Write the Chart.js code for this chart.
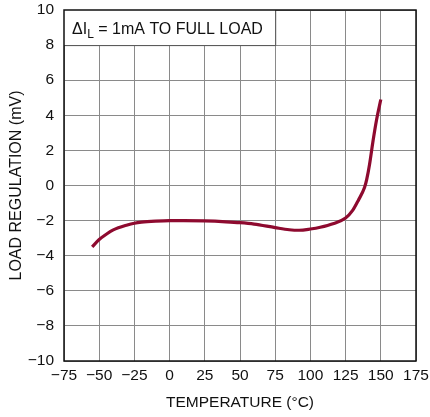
<!DOCTYPE html>
<html>
<head>
<meta charset="utf-8">
<script src="https://cdn.jsdelivr.net/npm/chart.js@4"></script>
<style>
  html, body { margin: 0; padding: 0; background: #fff; }
  #wrap { width: 430px; height: 417px; }
</style>
</head>
<body>
<div id="wrap"><canvas id="loadRegChart" width="430" height="417"></canvas></div>
<script>
const temperature = [-55, -50, -45, -40, -30, -25, -20, -10, 0, 10, 25, 40, 50, 60, 75, 85, 92, 100, 107, 116, 125, 130, 134, 138.5, 140, 142, 144.5, 147, 150];
const loadRegulation = [-3.5, -3.08, -2.78, -2.53, -2.25, -2.15, -2.09, -2.03, -2.0, -2.0, -2.02, -2.07, -2.12, -2.2, -2.4, -2.52, -2.55, -2.48, -2.38, -2.18, -1.85, -1.42, -0.85, -0.1, 0.35, 1.2, 2.55, 3.75, 4.9];
const xTicks = [-75, -50, -25, 0, 25, 50, 75, 100, 125, 150, 175];
const yTicks = [-10, -8, -6, -4, -2, 0, 2, 4, 6, 8, 10];

const FONT = "'Liberation Sans Narrow', 'Liberation Sans', Arial, sans-serif";

// label box in the top-left corner of the grid
const noteBox = {
    id: "noteBox",
    beforeDatasetsDraw(chart) {
        const { ctx, scales: { x, y } } = chart;
        const x0 = x.getPixelForValue(-75), x1 = x.getPixelForValue(75);
        const y0 = y.getPixelForValue(10), y1 = y.getPixelForValue(8);
        ctx.save();
        ctx.fillStyle = "#fff";
        ctx.fillRect(x0, y0, x1 - x0, y1 - y0);
        ctx.strokeStyle = "#555";
        ctx.lineWidth = 1;
        ctx.beginPath();
        ctx.moveTo(x1 + 0.5, y0);
        ctx.lineTo(x1 + 0.5, y1 + 0.5);
        ctx.lineTo(x0, y1 + 0.5);
        ctx.stroke();
        ctx.fillStyle = "#111";
        ctx.textBaseline = "alphabetic";
        let tx = x0 + 8;
        const ty = (y0 + y1) / 2 + 6;
        ctx.font = "16px " + FONT;
        ctx.fillText("\u0394I", tx, ty);
        tx += ctx.measureText("\u0394I").width;
        ctx.font = "12px " + FONT;
        ctx.fillText("L", tx, ty + 4);
        tx += ctx.measureText("L").width;
        ctx.font = "16px " + FONT;
        ctx.fillText(" = 1mA TO FULL LOAD", tx, ty);
        ctx.restore();
    }
};

const frame = {
    id: "frame",
    afterDraw(chart) {
        const { ctx, chartArea: a } = chart;
        ctx.save();
        ctx.strokeStyle = "#111";
        ctx.lineWidth = 1.5;
        ctx.strokeRect(a.left, a.top, a.right - a.left, a.bottom - a.top);
        ctx.restore();
    }
};

new Chart(document.getElementById("loadRegChart").getContext("2d"), {
    type: "line",
    data: {
        datasets: [{
            data: temperature.map((t, i) => ({ x: t, y: loadRegulation[i] })),
            borderColor: "#8e0a2f",
            borderWidth: 3.2,
            pointRadius: 0,
            cubicInterpolationMode: "monotone",
            fill: false
        }]
    },
    options: {
        responsive: false,
        animation: false,
        layout: { padding: { top: 10, right: 14, left: 0, bottom: 0 } },
        plugins: { legend: { display: false }, tooltip: { enabled: false } },
        scales: {
            x: {
                type: "linear",
                min: -75, max: 175,
                afterBuildTicks: s => { s.ticks = xTicks.map(v => ({ value: v })); },
                afterFit: s => { s.height = 56; s.paddingLeft = 0; s.paddingRight = 0; },
                grid: { color: "#8a8a8a", lineWidth: 1, drawTicks: false },
                border: { display: false },
                ticks: {
                    padding: 5,
                    color: "#111",
                    font: { family: FONT, size: 15.5 },
                    maxRotation: 0,
                    callback: v => String(v).replace("-", "\u2212")
                },
                title: {
                    display: true, text: "TEMPERATURE (\u00B0C)", color: "#111",
                    font: { family: FONT, size: 15.5 }, padding: { top: 4, bottom: 5 }
                }
            },
            y: {
                type: "linear",
                min: -10, max: 10,
                afterBuildTicks: s => { s.ticks = yTicks.map(v => ({ value: v })); },
                afterFit: s => { s.width = 64; s.paddingTop = 0; s.paddingBottom = 0; },
                grid: { color: "#8a8a8a", lineWidth: 1, drawTicks: false },
                border: { display: false },
                ticks: {
                    padding: 10,
                    color: "#111",
                    font: { family: FONT, size: 15.5 },
                    callback: v => String(v).replace("-", "\u2212")
                },
                title: {
                    display: true, text: "LOAD REGULATION (mV)", color: "#111",
                    font: { family: FONT, size: 16 }, padding: { top: 7, bottom: 0 }
                }
            }
        }
    },
    plugins: [noteBox, frame]
});
</script>
</body>
</html>
